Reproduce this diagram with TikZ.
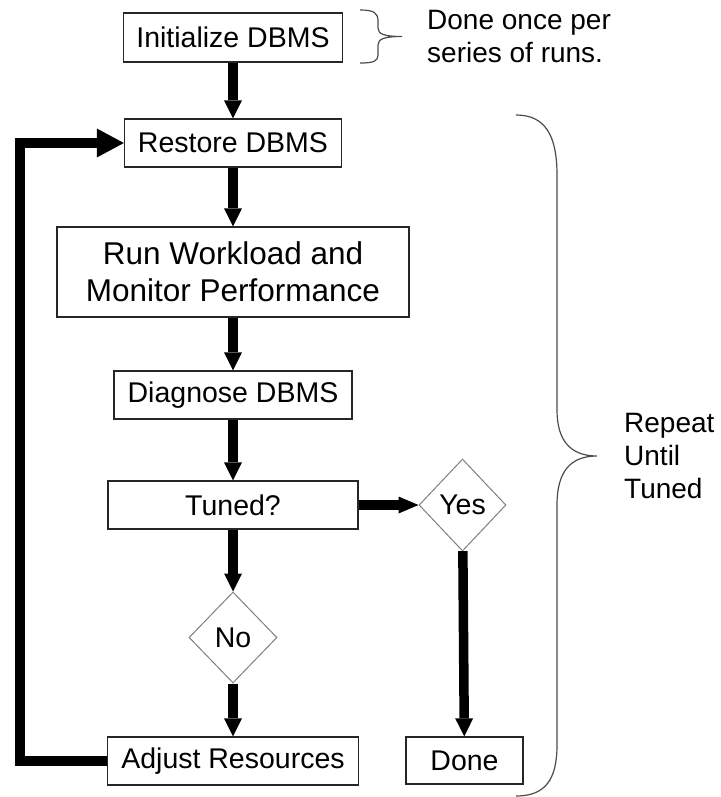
\documentclass[tikz,border=0pt]{standalone}
\usepackage{fontspec}
\setmainfont{Liberation Sans}
\usetikzlibrary{arrows.meta,shapes.geometric}
\begin{document}
\begin{tikzpicture}[x=1pt,y=-1pt,
  box/.style={draw=black!85,line width=1.3pt,fill=white,inner sep=0pt,
    font=\fontsize{28.5}{33}\selectfont},
  choice/.style={diamond,draw=black!50,line width=1pt,fill=white,inner sep=0pt,
    font=\fontsize{28.5}{33}\selectfont},
  side/.style={inner sep=0pt,align=left,font=\fontsize{28}{33}\selectfont},
  flow/.style={line width=9.5pt,-{Triangle[width=18pt,length=18pt,line width=0pt]}},
  brace/.style={draw=black!70,line width=1.2pt}]
\useasboundingbox (0,0) rectangle (720,797);
\fill[white] (0,0) rectangle (720,797);

% process boxes of the main column
\node[box,minimum width=219pt,minimum height=49pt] (init) at (233,37.5) {Initialize DBMS};
\node[box,minimum width=217pt,minimum height=48pt] (restore) at (233,143) {Restore DBMS};
\node[box,minimum width=352pt,minimum height=90pt,align=center,
      font=\fontsize{31.5}{37}\selectfont] (run) at (233,272) {Run Workload and\\Monitor Performance};
\node[box,minimum width=238pt,minimum height=48pt] (diag) at (233,395) {Diagnose DBMS};
\node[box,minimum width=250pt,minimum height=48pt] (tuned) at (233,505) {Tuned?};
\node[choice,minimum width=88pt,minimum height=91pt] (no) at (233,637.5) {No};
\node[box,minimum width=251pt,minimum height=48pt] (adjust) at (233,761) {Adjust Resources};

% the exit branch
\node[choice,minimum width=87pt,minimum height=92pt] (yes) at (462.5,505) {Yes};
\node[box,minimum width=117pt,minimum height=47pt] (done) at (464.5,760.5) {Done};

% connectors
\draw[flow] (init) -- (restore);
\draw[flow] (restore) -- (run);
\draw[flow] (run) -- (diag);
\draw[flow] (diag) -- (tuned);
\draw[flow] (tuned) -- (no);
\draw[flow] (no) -- (adjust);
\draw[flow,line width=10pt,-{Triangle[width=17pt,length=20pt,line width=0pt]}] (tuned) -- (yes);
\draw[flow] (yes) -- (done);
\coordinate (loopc) at (20,761);
\draw[line width=10pt,-{Triangle[width=29pt,length=27pt,line width=0pt]}]
  (adjust.west) -- (loopc) |- (restore.west);

% braces and their notes
\draw[brace] (360,10) .. controls (374,10) and (378,13) .. (378,21) -- (378,28)
  .. controls (378,34) and (384,36.5) .. (402,36.5)
  .. controls (384,36.5) and (378,39) .. (378,45) -- (378,55)
  .. controls (378,61) and (374,63) .. (360,63);
\node[side,anchor=north west] (once) at (427,10) {Done once per\\series of runs.};

\draw[brace] (516,115) .. controls (545,115) and (557,135) .. (557,175) -- (557,410)
  .. controls (557,440) and (570,456) .. (597,456)
  .. controls (570,456) and (557,472) .. (557,505) -- (557,745)
  .. controls (557,780) and (545,796) .. (516,796);
\node[side,anchor=north west] (repeat) at (624,413) {Repeat\\Until\\Tuned};
\end{tikzpicture}
\end{document}
